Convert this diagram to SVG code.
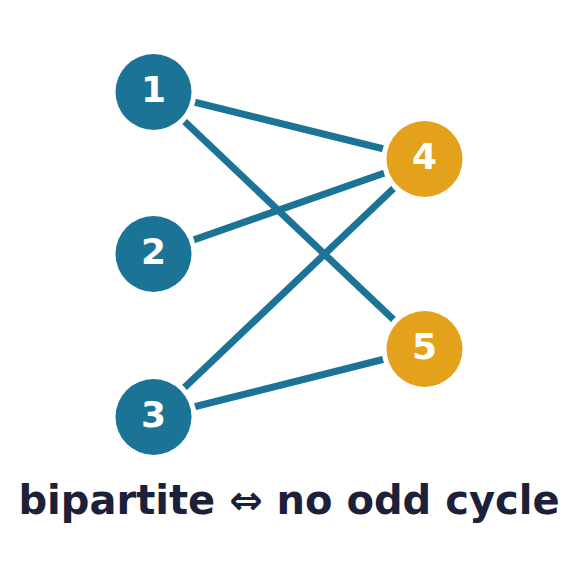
<svg xmlns="http://www.w3.org/2000/svg" width="578" height="577" viewBox="0 0 578 577">
<style>
.edge{stroke:#1b7396;stroke-width:7;fill:none}
.halo{fill:#ffffff}
.a circle.f{fill:#1b7396}
.b circle.f{fill:#e3a11c}
.n text{font-family:"DejaVu Sans",sans-serif;font-weight:bold;font-size:36px;fill:#ffffff;text-anchor:middle}
.title{font-family:"DejaVu Sans",sans-serif;font-weight:bold;font-size:40px;fill:#1c2038;text-anchor:middle}
</style>
<rect width="578" height="577" fill="#ffffff"/>
<g id="edges">
<line class="edge" x1="153.5" y1="92" x2="424.5" y2="159"/>
<line class="edge" x1="153.5" y1="92" x2="424.5" y2="349"/>
<line class="edge" x1="153.5" y1="254" x2="424.5" y2="159"/>
<line class="edge" x1="153.5" y1="417" x2="424.5" y2="159"/>
<line class="edge" x1="153.5" y1="417" x2="424.5" y2="349"/>
</g>
<g id="node1" class="n a"><circle class="halo" cx="153.5" cy="92" r="43"/><circle class="f" cx="153.5" cy="92" r="38"/><text x="153.5" y="102">1</text></g>
<g id="node2" class="n a"><circle class="halo" cx="153.5" cy="254" r="43"/><circle class="f" cx="153.5" cy="254" r="38"/><text x="153.5" y="264">2</text></g>
<g id="node3" class="n a"><circle class="halo" cx="153.5" cy="417" r="43"/><circle class="f" cx="153.5" cy="417" r="38"/><text x="153.5" y="427">3</text></g>
<g id="node4" class="n b"><circle class="halo" cx="424.5" cy="159" r="43"/><circle class="f" cx="424.5" cy="159" r="38"/><text x="424.5" y="169">4</text></g>
<g id="node5" class="n b"><circle class="halo" cx="424.5" cy="349" r="43"/><circle class="f" cx="424.5" cy="349" r="38"/><text x="424.5" y="359">5</text></g>
<text class="title" x="289" y="514">bipartite ⇔ no odd cycle</text>
</svg>
